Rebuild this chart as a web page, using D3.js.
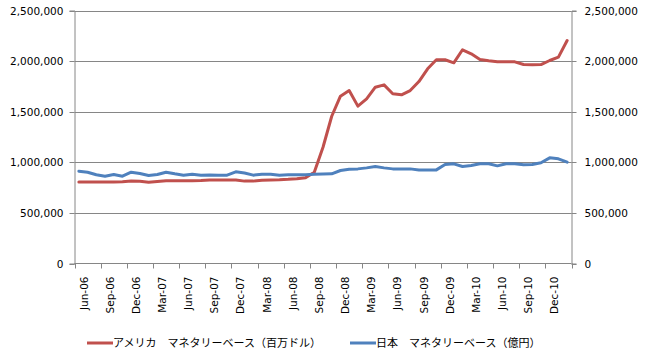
<!DOCTYPE html>
<html>
<head>
<meta charset="utf-8">
<script src="https://cdn.jsdelivr.net/npm/d3@7"></script>
<style>
  html, body { margin: 0; padding: 0; background: #fff; }
  svg { display: block; }
  .tick text { font-family: "DejaVu Sans", Verdana, sans-serif; font-size: 10.5px; fill: #000; }
  .legend text { font-family: "Noto Sans CJK JP", sans-serif; font-size: 11px; fill: #000; }
</style>
</head>
<body>
<svg id="chart" width="645" height="357"></svg>
<script>
const categories = [
  "Jun-06","Jul-06","Aug-06","Sep-06","Oct-06","Nov-06","Dec-06",
  "Jan-07","Feb-07","Mar-07","Apr-07","May-07","Jun-07","Jul-07","Aug-07","Sep-07","Oct-07","Nov-07","Dec-07",
  "Jan-08","Feb-08","Mar-08","Apr-08","May-08","Jun-08","Jul-08","Aug-08","Sep-08","Oct-08","Nov-08","Dec-08",
  "Jan-09","Feb-09","Mar-09","Apr-09","May-09","Jun-09","Jul-09","Aug-09","Sep-09","Oct-09","Nov-09","Dec-09",
  "Jan-10","Feb-10","Mar-10","Apr-10","May-10","Jun-10","Jul-10","Aug-10","Sep-10","Oct-10","Nov-10","Dec-10",
  "Jan-11","Feb-11"
];
const tickLabels = ["Jun-06","Sep-06","Dec-06","Mar-07","Jun-07","Sep-07","Dec-07","Mar-08","Jun-08","Sep-08",
  "Dec-08","Mar-09","Jun-09","Sep-09","Dec-09","Mar-10","Jun-10","Sep-10","Dec-10"];
const yTicks = [0, 500000, 1000000, 1500000, 2000000, 2500000];

// アメリカ マネタリーベース (百万ドル)
const usBase = [
  805000, 805000, 805000, 805000, 805000, 808000, 815000,
  812000, 803000, 810000, 818000, 818000, 818000, 818000, 820000, 826000, 826000, 826000, 826000,
  814000, 814000, 822000, 826000, 828000, 832000, 838000, 848000, 902000, 1149000, 1455000, 1653000,
  1709000, 1555000, 1627000, 1742000, 1765000, 1677000, 1667000, 1709000, 1798000, 1924000, 2013000, 2013000,
  1983000, 2112000, 2072000, 2016000, 2003000, 1993000, 1993000, 1993000, 1966000, 1963000, 1966000, 2006000,
  2039000, 2204000
];
// 日本 マネタリーベース (億円)
const jpBase = [
  912000, 902000, 877000, 863000, 879000, 863000, 902000,
  890000, 870000, 879000, 902000, 886000, 873000, 883000, 873000, 875000, 873000, 873000, 906000,
  895000, 873000, 883000, 883000, 873000, 876000, 876000, 878000, 882000, 884000, 886000, 919000,
  932000, 935000, 945000, 958000, 945000, 935000, 935000, 935000, 925000, 925000, 925000, 978000,
  985000, 958000, 968000, 985000, 985000, 965000, 985000, 985000, 975000, 978000, 995000, 1044000,
  1034000, 1001000
];
const seriesNames = ["アメリカ\u3000マネタリーベース（百万ドル）", "日本\u3000マネタリーベース（億円）"];
const colors = ["#C0504D", "#4F81BD"];

const svg = d3.select("#chart");
const pLeft = 74.5, pRight = 571.5, pTop = 10.5, pBottom = 263.5;
const gridColor = "#868686";

const x = d3.scaleBand().domain(categories).range([pLeft, pRight]).padding(0);
const y = d3.scaleLinear().domain([0, 2500000]).range([pBottom, pTop]);

// gridlines
svg.append("g").selectAll("line").data(yTicks.filter(d => d > 0)).join("line")
  .attr("x1", pLeft).attr("x2", pRight)
  .attr("y1", d => Math.round(y(d)) + 0.5).attr("y2", d => Math.round(y(d)) + 0.5)
  .attr("stroke", gridColor).attr("stroke-width", 1);

// left axis
const yl = svg.append("g").attr("transform", `translate(${pLeft},0)`)
  .call(d3.axisLeft(y).tickValues(yTicks).tickFormat(d3.format(",")).tickSize(5).tickPadding(6));
// right axis
const yr = svg.append("g").attr("transform", `translate(${pRight},0)`)
  .call(d3.axisRight(y).tickValues(yTicks).tickFormat(d3.format(",")).tickSize(5).tickPadding(8));
[yl, yr].forEach(g => {
  g.select(".domain").attr("stroke", gridColor);
  g.selectAll(".tick line").attr("stroke", gridColor);
  g.selectAll(".tick").attr("transform", d => `translate(0,${Math.round(y(d)) + 0.5})`);
});

// x axis baseline and tick marks
const xg = svg.append("g");
xg.append("line").attr("x1", pLeft).attr("x2", pRight).attr("y1", pBottom).attr("y2", pBottom)
  .attr("stroke", gridColor);
const tickIdx = d3.range(0, categories.length + 1, 3);
xg.selectAll("line.tk").data(tickIdx).join("line").attr("class", "tk")
  .attr("x1", i => Math.round(i < categories.length ? x(categories[i]) : pRight) + 0.5)
  .attr("x2", i => Math.round(i < categories.length ? x(categories[i]) : pRight) + 0.5)
  .attr("y1", pBottom).attr("y2", pBottom + 5)
  .attr("stroke", gridColor);
xg.selectAll("text").data(tickLabels).join("text")
  .attr("class", "xl")
  .attr("transform", d => `translate(${x(d) + x.bandwidth() / 2 + 5},${pBottom + 13}) rotate(-90)`)
  .attr("text-anchor", "end").attr("dy", "0.35em")
  .style("font-family", '"DejaVu Sans", Verdana, sans-serif').style("font-size", "10.5px")
  .text(d => d);

// lines
const line = d3.line()
  .x((d, i) => x(categories[i]) + x.bandwidth() / 2)
  .y(d => y(d));
[usBase, jpBase].forEach((s, k) => {
  svg.append("path").datum(s).attr("d", line)
    .attr("fill", "none").attr("stroke", colors[k]).attr("stroke-width", 3)
    .attr("stroke-linejoin", "round").attr("stroke-linecap", "round");
});

// legend
const leg = svg.append("g").attr("class", "legend");
const legItems = [{x: 87, name: seriesNames[0], c: colors[0]}, {x: 350, name: seriesNames[1], c: colors[1]}];
legItems.forEach(it => {
  leg.append("line").attr("x1", it.x).attr("x2", it.x + 26).attr("y1", 343).attr("y2", 343)
    .attr("stroke", it.c).attr("stroke-width", 3);
  leg.append("text").attr("x", it.x + 26).attr("y", 343).attr("dy", "0.38em").text(it.name);
});
</script>
</body>
</html>
